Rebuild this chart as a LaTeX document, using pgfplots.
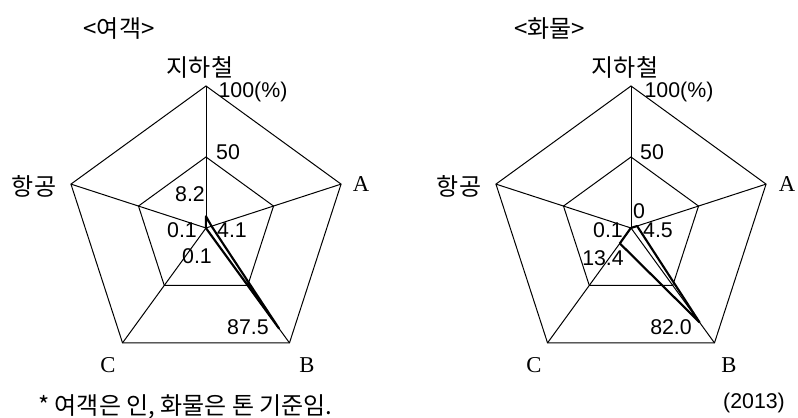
\documentclass[border=0pt]{standalone}
\usepackage{fontspec}
\setmainfont{Liberation Sans}
\newfontfamily\kr{Noto Sans CJK KR}
\newfontfamily\abc{Liberation Serif}
\usepackage{pgfplots}
\pgfplotsset{compat=1.18}

% regular pentagon radar: axes at 90, 18, -54, -126, 162 degrees
\pgfplotsset{
  radar/.style={
    hide axis, clip=false,
    x=1.065pt, y=1.065pt,
    xmin=-100, xmax=100, ymin=-85, ymax=100,
    anchor=origin,
    data cs=polar,
  },
}
\tikzset{
  gridln/.style={black, line width=0.75pt, line join=miter},
  dataln/.style={black, line width=1.6pt, line join=round, line cap=round},
  num/.style={font=\fontsize{16}{19}\selectfont, inner sep=0pt},
  krl/.style={font=\kr\fontsize{18}{21}\selectfont, inner sep=0pt},
  abcl/.style={font=\abc\fontsize{17}{20}\selectfont, inner sep=0pt},
}

\begin{document}
\begin{tikzpicture}[x=0.75pt, y=0.75pt]

% ---------- passengers ----------
% at= is read in the axis units, so give it in pt (206px, 189px)
\begin{axis}[radar, at={(154.5pt,141.75pt)}]
  \addplot[gridln] coordinates {(90,0) (90,100)};
  \addplot[gridln] coordinates {(18,0) (18,100)};
  \addplot[gridln] coordinates {(-54,0) (-54,100)};
  \addplot[gridln] coordinates {(-126,0) (-126,100)};
  \addplot[gridln] coordinates {(162,0) (162,100)};
  \addplot[gridln] coordinates {(90,100) (18,100) (-54,100) (-126,100) (162,100)} -- cycle;
  \addplot[gridln] coordinates {(90,50) (18,50) (-54,50) (-126,50) (162,50)} -- cycle;
  % 지하철, A, B, C, 항공
  \addplot[dataln] coordinates {(90,8.2) (18,4.1) (-54,87.5) (-126,0.1) (162,0.1)} -- cycle;
\end{axis}

% ---------- freight ----------
\begin{axis}[radar, at={(473.25pt,141.75pt)}]
  \addplot[gridln] coordinates {(90,0) (90,100)};
  \addplot[gridln] coordinates {(18,0) (18,100)};
  \addplot[gridln] coordinates {(-54,0) (-54,100)};
  \addplot[gridln] coordinates {(-126,0) (-126,100)};
  \addplot[gridln] coordinates {(162,0) (162,100)};
  \addplot[gridln] coordinates {(90,100) (18,100) (-54,100) (-126,100) (162,100)} -- cycle;
  \addplot[gridln] coordinates {(90,50) (18,50) (-54,50) (-126,50) (162,50)} -- cycle;
  \addplot[dataln] coordinates {(90,0) (18,4.5) (-54,82.0) (-126,13.4) (162,0.1)} -- cycle;
\end{axis}

% titles and axis names
\node[krl] at (119,388) {<여객>};
\node[krl] at (549.5,388) {<화물>};
\node[krl] at (200,350) {지하철};
\node[krl] at (625,350) {지하철};
\node[krl] at (34,231) {항공};
\node[krl] at (459,231) {항공};
\node[abcl] at (361,233) {A};
\node[abcl] at (787,233) {A};
\node[abcl] at (307,52) {B};
\node[abcl] at (729,52) {B};
\node[abcl] at (108,52) {C};
\node[abcl] at (534,52) {C};

% scale labels
\node[num] at (253,325) {100(\%)};
\node[num] at (679,325) {100(\%)};
\node[num] at (228,265) {50};
\node[num] at (652,265) {50};

% value labels, passengers
\node[num] at (190,223) {8.2};
\node[num] at (182,187) {0.1};
\node[num] at (232,187) {4.1};
\node[num] at (197,161) {0.1};
\node[num] at (248,90) {87.5};
% value labels, freight
\node[num] at (639,206) {0};
\node[num] at (608,187) {0.1};
\node[num] at (658,187) {4.5};
\node[num] at (603,159) {13.4};
\node[num] at (671,90) {82.0};

% notes
\node[krl, anchor=west] at (38,10) {* 여객은 인, 화물은 톤 기준임.};
\node[num] at (754,14) {(2013)};

\pgfresetboundingbox
\path[use as bounding box] (0,0) rectangle (798,417);
\end{tikzpicture}
\end{document}
